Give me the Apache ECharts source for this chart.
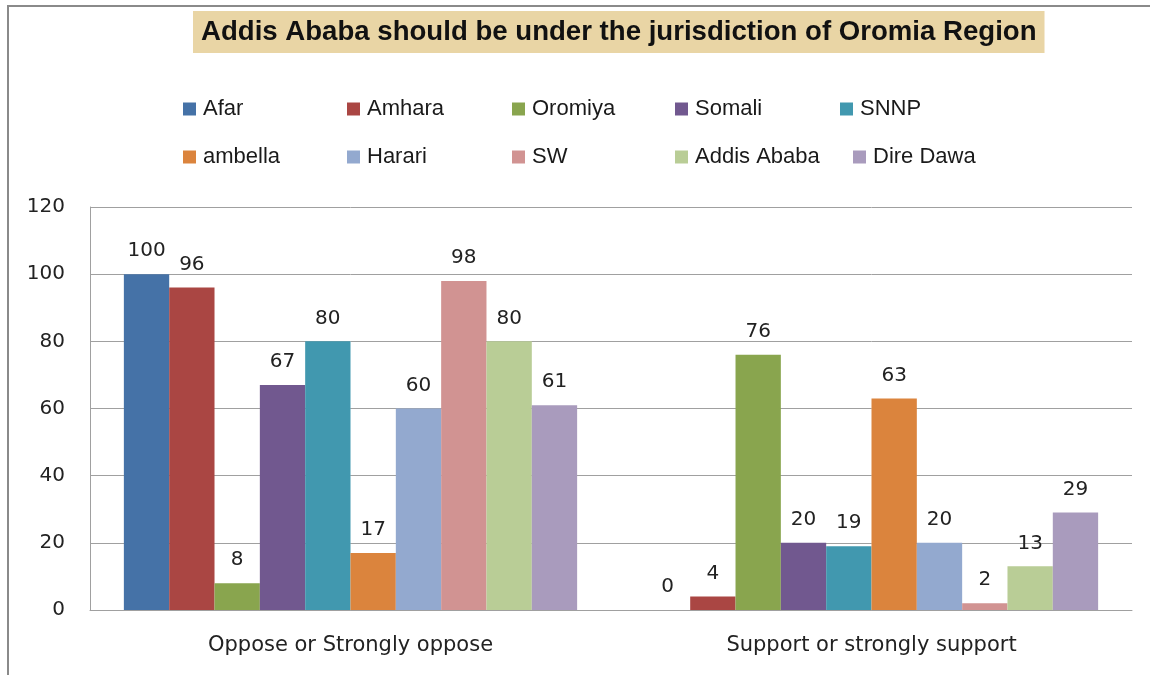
<!DOCTYPE html>
<html>
<head>
<meta charset="utf-8">
<script src="https://cdn.jsdelivr.net/npm/echarts@6/dist/echarts.min.js"></script>
<style>
body { margin: 0; background: #fff; }
#frame { position: absolute; left: 0; top: 0; width: 1150px; height: 675px; }
#frame:before { content: ''; position: absolute; left: 7px; top: 5px; right: 0; bottom: 0;
  border-top: 2px solid #8a8a8a; border-left: 2px solid #8a8a8a; }
#chart { position: absolute; left: 0; top: 0; width: 1150px; height: 675px; }
</style>
</head>
<body>
<div id="frame"></div>
<div id="chart"></div>
<script>
var categories = ['Oppose or Strongly oppose', 'Support or strongly support'];
var regions = ['Afar', 'Amhara', 'Oromiya', 'Somali', 'SNNP', 'ambella', 'Harari', 'SW', 'Addis Ababa', 'Dire Dawa'];
var colors = ['#4572A7', '#AA4643', '#89A54E', '#71588F', '#4198AF', '#DB843D', '#93A9CF', '#D19392', '#B9CD96', '#A99BBD'];
var afar = [100, 0];
var amhara = [96, 4];
var oromiya = [8, 76];
var somali = [67, 20];
var snnp = [80, 19];
var ambella = [17, 63];
var harari = [60, 20];
var sw = [98, 2];
var addisAbaba = [80, 13];
var direDawa = [61, 29];
var yTicks = [0, 20, 40, 60, 80, 100, 120];

var values = [afar, amhara, oromiya, somali, snnp, ambella, harari, sw, addisAbaba, direDawa];

// legend placed like the Excel one: 5 columns, 2 rows
var legendX = [183, 347, 512, 675, 840, 183, 347, 512, 675, 853];
var legendY = [98, 98, 98, 98, 98, 146, 146, 146, 146, 146];

var chart = echarts.init(document.getElementById('chart'));

var legends = regions.map(function (name, i) {
  return {
    data: [name],
    left: legendX[i],
    top: legendY[i],
    itemWidth: 13,
    itemHeight: 13,
    itemGap: 0,
    icon: 'rect',
    padding: 0,
    textStyle: { fontFamily: 'Liberation Sans', fontSize: 22, color: '#1a1a1a', padding: [0, 0, 0, 2] }
  };
});

var series = regions.map(function (name, i) {
  return {
    name: name,
    type: 'bar',
    barGap: '0%',
    barCategoryGap: '13%',
    data: values[i],
    itemStyle: { color: colors[i] },
    label: {
      show: true,
      position: 'top',
      distance: 13,
      fontFamily: 'DejaVu Sans',
      fontSize: 20,
      color: '#222'
    }
  };
});

var option = {
  animation: false,
  title: {
    text: 'Addis Ababa should be under the jurisdiction of Oromia Region',
    left: 193,
    top: 12,
    padding: [7, 8],
    backgroundColor: '#E9D5A5',
    textStyle: {
      fontFamily: 'Liberation Sans',
      fontWeight: 'bold',
      fontSize: 27.6,
      color: '#111',
      lineHeight: 26
    }
  },
  legend: legends,
  grid: { left: 90, right: 18, top: 207, bottom: 65 },
  xAxis: {
    type: 'category',
    data: categories,
    axisLine: { lineStyle: { color: '#a0a0a0' } },
    axisTick: { show: false },
    axisLabel: { fontFamily: 'DejaVu Sans', fontSize: 21, color: '#222', margin: 25 }
  },
  yAxis: {
    type: 'value',
    min: yTicks[0],
    max: yTicks[yTicks.length - 1],
    interval: 20,
    axisLine: { show: true, lineStyle: { color: '#a0a0a0' } },
    axisTick: { show: false },
    splitLine: { lineStyle: { color: '#a0a0a0' } },
    axisLabel: { fontFamily: 'DejaVu Sans', fontSize: 20, color: '#222', margin: 25 }
  },
  series: series
};
chart.setOption(option);
</script>
</body>
</html>
